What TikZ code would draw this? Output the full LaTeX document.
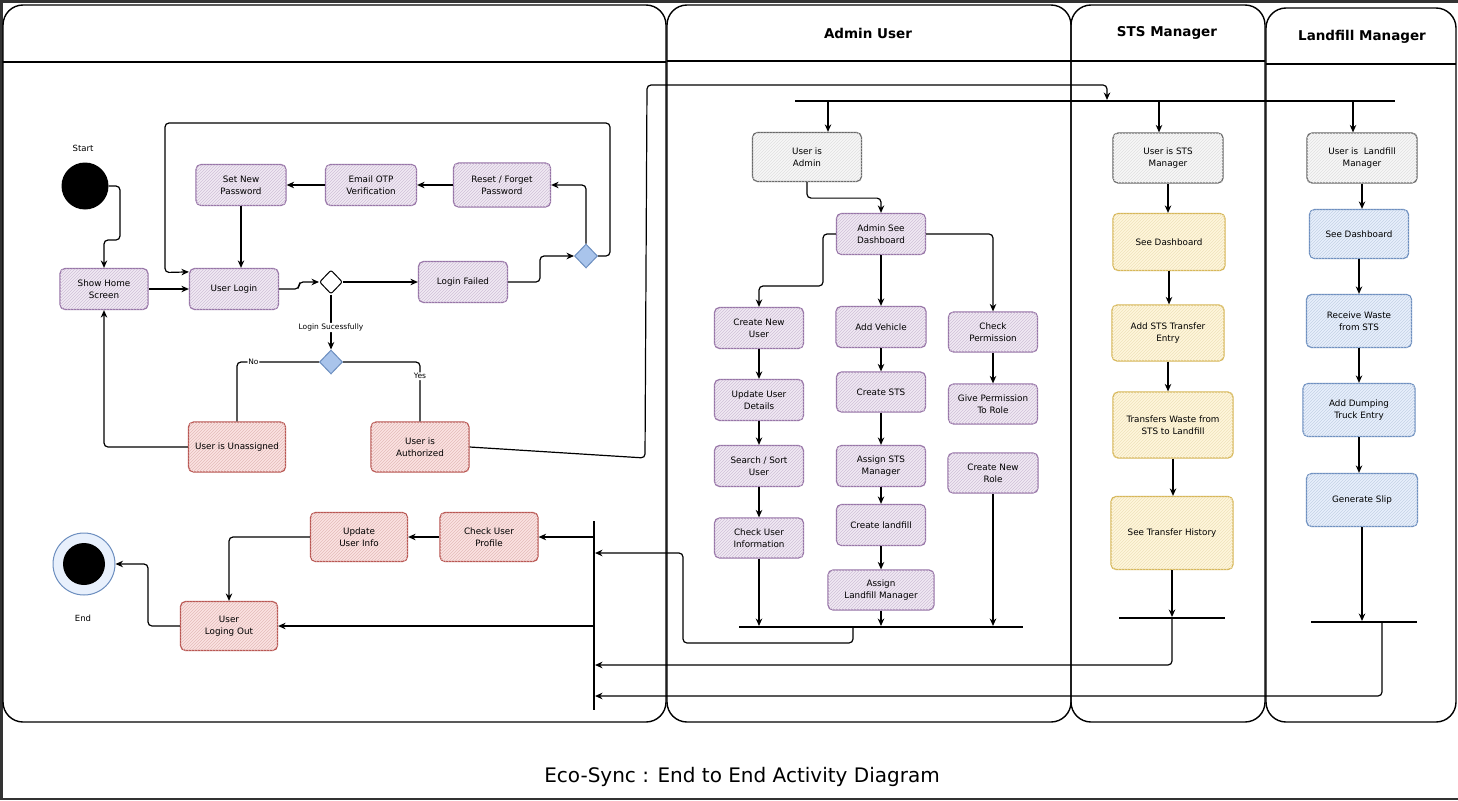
\documentclass[tikz,border=0pt]{standalone}
\usepackage{fontspec}
\setmainfont{DejaVu Sans}
\usetikzlibrary{arrows.meta,shapes.geometric,patterns}
\definecolor{pfill}{HTML}{F1EAF4}
\definecolor{pline}{HTML}{9673A6}
\definecolor{rfill}{HTML}{FBE3E2}
\definecolor{rline}{HTML}{B85450}
\definecolor{gfill}{HTML}{F7F7F7}
\definecolor{gline}{HTML}{666666}
\definecolor{yfill}{HTML}{FFF6DC}
\definecolor{yline}{HTML}{D6B656}
\definecolor{bfill}{HTML}{E8F0FC}
\definecolor{bline}{HTML}{6C8EBF}
\definecolor{dfill}{HTML}{A9C4EB}
\definecolor{framegray}{HTML}{333333}
\begin{document}
\begin{tikzpicture}[x=1pt,y=-1pt,
 box/.style={rectangle,rounded corners=5pt,align=center,draw,line width=1.2pt,inner sep=2pt,font=\fontsize{8.8}{12}\selectfont},
 pbox/.style={box,draw=pline,fill=pfill,postaction={pattern=north east lines,pattern color=pline!45}},
 rbox/.style={box,draw=rline,fill=rfill,postaction={pattern=north east lines,pattern color=rline!40}},
 gbox/.style={box,draw=gline,fill=gfill,postaction={pattern=north east lines,pattern color=gline!20}},
 ybox/.style={box,draw=yline,fill=yfill,postaction={pattern=north east lines,pattern color=yline!40}},
 bbox/.style={box,draw=bline,fill=bfill,postaction={pattern=north east lines,pattern color=bline!40}},
 arr/.style={-{Stealth[length=7.5pt,width=6.5pt]},line width=1.2pt,rounded corners=4pt},
 conn/.style={line width=1.2pt,rounded corners=4pt},
 lane/.style={draw,line width=1.4pt,rounded corners=20pt},
 hbar/.style={rectangle,fill=black,inner sep=0pt,minimum height=1.6pt},
 vbar/.style={rectangle,fill=black,inner sep=0pt,minimum width=1.6pt},
 lanetitle/.style={font=\fontsize{13.5}{15}\selectfont\bfseries},
 lbl/.style={font=\fontsize{7.5}{9}\selectfont,fill=white,inner sep=1pt},
 plain/.style={font=\fontsize{8.5}{10}\selectfont},
 diam/.style={diamond,aspect=1,inner sep=0pt,minimum width=23pt,minimum height=24pt,line width=1pt},
 ]
\useasboundingbox (0,0) rectangle (1458,800);
\fill[white] (0,0) rectangle (1458,800);
% image frame
\fill[framegray] (0,0) rectangle (1458,3.5);
\fill[framegray] (0,0) rectangle (3,800);
\fill[framegray] (0,797.5) rectangle (1458,800);

% lanes
\draw[lane] (3,5) rectangle (666,722);
\draw[line width=1.4pt] (3,62) -- (666,62);
\draw[lane] (667,5) rectangle (1071,722);
\draw[line width=1.4pt] (667,61) -- (1071,61);
\draw[lane] (1071,5) rectangle (1265,722);
\draw[line width=1.4pt] (1071,61) -- (1265,61);
\draw[lane] (1266,8) rectangle (1456,722);
\draw[line width=1.4pt] (1266,64) -- (1456,64);
\node[lanetitle] (tadmin) at (868,33) {Admin User};
\node[lanetitle] (tsts) at (1167,33) {STS Manager};
\node[lanetitle] (tlf) at (1362,37) {Landfill Manager};
\node[font=\fontsize{20}{22}\selectfont] (caption) at (742,777) {Eco-Sync : End to End Activity Diagram};

% ---------- left lane ----------
\node[plain] (lstart) at (83,148) {Start};
\node[circle,fill=black,minimum size=47pt,inner sep=0pt] (start) at (85,186) {};
\node[pbox,minimum width=88pt,minimum height=41pt] (home) at (104,289) {Show Home\\Screen};
\node[pbox,minimum width=89pt,minimum height=41pt] (login) at (234,289) {User Login};
\node[pbox,minimum width=90pt,minimum height=41pt] (setpw) at (241,185) {Set New\\Password};
\node[pbox,minimum width=91pt,minimum height=41pt] (otp) at (371,185) {Email OTP\\Verification};
\node[pbox,minimum width=97pt,minimum height=44pt] (reset) at (502,185) {Reset / Forget\\Password};
\node[diam,draw=black,fill=white,rounded corners=2pt] (d1) at (331,282) {};
\node[pbox,minimum width=89pt,minimum height=41pt] (failed) at (463,282) {Login Failed};
\node[diam,draw=bline,fill=dfill] (d2) at (586,256) {};
\node[diam,draw=bline,fill=dfill] (d3) at (331,362) {};
\node[rbox,minimum width=97pt,minimum height=50pt] (unass) at (237,447) {User is Unassigned};
\node[rbox,minimum width=98pt,minimum height=50pt] (auth) at (420,447) {User is\\Authorized};
\node[rbox,minimum width=97pt,minimum height=49pt] (upd) at (359,537) {Update\\User Info};
\node[rbox,minimum width=98pt,minimum height=49pt] (chk) at (489,537) {Check User\\Profile};
\node[rbox,minimum width=97pt,minimum height=49pt] (logout) at (229,626) {User\\Loging Out};
\node[circle,draw=bline,fill=bfill,line width=1pt,minimum size=62pt,inner sep=0pt] (endo) at (84,564) {};
\node[circle,fill=black,minimum size=42pt,inner sep=0pt] (endi) at (84,564) {};
\node[plain] (lend) at (83,618) {End};
\node[vbar,minimum height=189pt] (lbar) at (594,615.5) {};

% ---------- admin lane ----------
\node[hbar,minimum width=600pt] (forkbar) at (1095,101) {};
\node[gbox,minimum width=109pt,minimum height=49pt] (admin) at (807,157) {User is\\Admin};
\node[pbox,minimum width=89pt,minimum height=41pt] (dash) at (881,234) {Admin See\\Dashboard};
\node[pbox,minimum width=89pt,minimum height=41pt] (newuser) at (759,328) {Create New\\User};
\node[pbox,minimum width=90pt,minimum height=41pt] (vehicle) at (881,327) {Add Vehicle};
\node[pbox,minimum width=89pt,minimum height=40pt] (perm) at (993,332) {Check\\Permission};
\node[pbox,minimum width=89pt,minimum height=41pt] (upduser) at (759,400) {Update User\\Details};
\node[pbox,minimum width=89pt,minimum height=41pt] (search) at (759,466) {Search / Sort\\User};
\node[pbox,minimum width=89pt,minimum height=40pt] (info) at (759,538) {Check User\\Information};
\node[pbox,minimum width=89pt,minimum height=40pt] (csts) at (881,392) {Create STS};
\node[pbox,minimum width=89pt,minimum height=41pt] (asts) at (881,466) {Assign STS\\Manager};
\node[pbox,minimum width=89pt,minimum height=41pt] (clf) at (881,525) {Create landfill};
\node[pbox,minimum width=106pt,minimum height=40pt] (alf) at (881,590) {Assign\\Landfill Manager};
\node[pbox,minimum width=89pt,minimum height=40pt] (give) at (993,404) {Give Permission\\To Role};
\node[pbox,minimum width=90pt,minimum height=40pt] (newrole) at (993,473) {Create New\\Role};
\node[hbar,minimum width=284pt] (abar) at (881,627) {};

% ---------- STS lane ----------
\node[gbox,minimum width=110pt,minimum height=50pt] (stsuser) at (1168,158) {User is STS\\Manager};
\node[ybox,minimum width=112pt,minimum height=57pt] (stsdash) at (1169,242) {See Dashboard};
\node[ybox,minimum width=112pt,minimum height=56pt] (ststrans) at (1168,333) {Add STS Transfer\\Entry};
\node[ybox,minimum width=120pt,minimum height=66pt] (stsxfer) at (1173,425) {Transfers Waste from\\STS to Landfill};
\node[ybox,minimum width=122pt,minimum height=73pt] (stshist) at (1172,533) {See Transfer History};
\node[hbar,minimum width=106pt] (sbar) at (1172,618) {};

% ---------- Landfill lane ----------
\node[gbox,minimum width=110pt,minimum height=50pt] (lfuser) at (1362,158) {User is~ Landfill\\Manager};
\node[bbox,minimum width=99pt,minimum height=49pt] (lfdash) at (1359,234) {See Dashboard};
\node[bbox,minimum width=105pt,minimum height=53pt] (lfrecv) at (1359,321) {Receive Waste\\from STS};
\node[bbox,minimum width=112pt,minimum height=53pt] (lfdump) at (1359,410) {Add Dumping\\Truck Entry};
\node[bbox,minimum width=111pt,minimum height=53pt] (lfslip) at (1362,500) {Generate Slip};
\node[hbar,minimum width=106pt] (lfbar) at (1364,622) {};

% helper coordinates
\coordinate (kA) at (1107,85);
\coordinate (aA) at (828,0);
\coordinate (sA) at (1159,0);
\coordinate (lA) at (1353,0);
\coordinate (aB) at (853,0);
\coordinate (lB) at (1382,0);
\coordinate (yA) at (0,553);
\coordinate (yS) at (0,665);
\coordinate (yL) at (0,696);

% ---------- connectors: left ----------
\draw[arr] (start.east) -- (120,186) -- (120,240) -- (104,240) -- (home.north);
\draw[arr] (home.east) -- (login.west);
\draw[arr] (login.east) -- (299,289) -- (299,282) -- (d1.west);
\draw[arr] (d1.east) -- (failed.west);
\draw[arr] (failed.east) -- (540,282) -- (540,256) -- (d2.west);
\draw[arr] (d2.north) |- (reset.east);
\draw[arr] (d2.east) -- (610,256) -- (610,123) -- (165,123) -- (165,272.5) -- ([yshift=-4pt]login.north west);
\draw[arr] (setpw.south) -- (setpw.south |- login.north);
\draw[arr] (otp.west) -- (setpw.east);
\draw[arr] (reset.west) -- (otp.east);
\draw[arr] (d1.south) -- node[lbl,pos=0.6] {Login Sucessfully} (d3.north);
\draw[conn] (d3.west) -| node[lbl,pos=0.4] {No} (unass.north);
\draw[conn] (d3.east) -| node[lbl,pos=0.62] {Yes} (auth.north);
\draw[arr] (unass.west) -| (home.south);
\draw[arr] (auth.east) -- (645,458) -- (647,85) -- (kA) -- (kA |- forkbar.north);
\draw[arr] (lbar.west |- chk.east) -- (chk.east);
\draw[arr] (lbar.west |- logout.east) -- (logout.east);
\draw[arr] (chk.west) -- (upd.east);
\draw[arr] (upd.west) -| (logout.north);
\draw[arr] (logout.west) -- (148,626) |- (endo.east);

% ---------- connectors: admin ----------
\draw[arr] (aA |- forkbar.south) -- (aA |- admin.north);
\draw[arr] (admin.south) -- ++(0,16) -| (dash.north);
\draw[arr] (dash.west) -- (823,234) -- (823,286) -| (newuser.north);
\draw[arr] (dash.south) -- (vehicle.north);
\draw[arr] (dash.east) -| (perm.north);
\draw[arr] (newuser.south) -- (upduser.north);
\draw[arr] (upduser.south) -- (search.north);
\draw[arr] (search.south) -- (info.north);
\draw[arr] (vehicle.south) -- (csts.north);
\draw[arr] (csts.south) -- (asts.north);
\draw[arr] (asts.south) -- (clf.north);
\draw[arr] (clf.south) -- (alf.north);
\draw[arr] (perm.south) -- (give.north);
\draw[arr] (info.south) -- (info.south |- abar.north);
\draw[arr] (alf.south) -- (alf.south |- abar.north);
\draw[arr] (newrole.south) -- (newrole.south |- abar.north);
\draw[arr] (aB |- abar.south) -- (853,643) -- (683,643) -- (683,553) -- (lbar.east |- yA);

% ---------- connectors: STS ----------
\draw[arr] (sA |- forkbar.south) -- (sA |- stsuser.north);
\draw[arr] (stsuser.south) -- (stsuser.south |- stsdash.north);
\draw[arr] (stsdash.south) -- (stsdash.south |- ststrans.north);
\draw[arr] (ststrans.south) -- (ststrans.south |- stsxfer.north);
\draw[arr] (stsxfer.south) -- (stsxfer.south |- stshist.north);
\draw[arr] (stshist.south) -- (stshist.south |- sbar.north);
\draw[arr] (sbar.south) |- (lbar.east |- yS);

% ---------- connectors: Landfill ----------
\draw[arr] (lA |- forkbar.south) -- (lA |- lfuser.north);
\draw[arr] (lfuser.south) -- (lfuser.south |- lfdash.north);
\draw[arr] (lfdash.south) -- (lfdash.south |- lfrecv.north);
\draw[arr] (lfrecv.south) -- (lfrecv.south |- lfdump.north);
\draw[arr] (lfdump.south) -- (lfdump.south |- lfslip.north);
\draw[arr] (lfslip.south) -- (lfslip.south |- lfbar.north);
\draw[arr] (lB |- lfbar.south) |- (lbar.east |- yL);
\end{tikzpicture}
\end{document}
